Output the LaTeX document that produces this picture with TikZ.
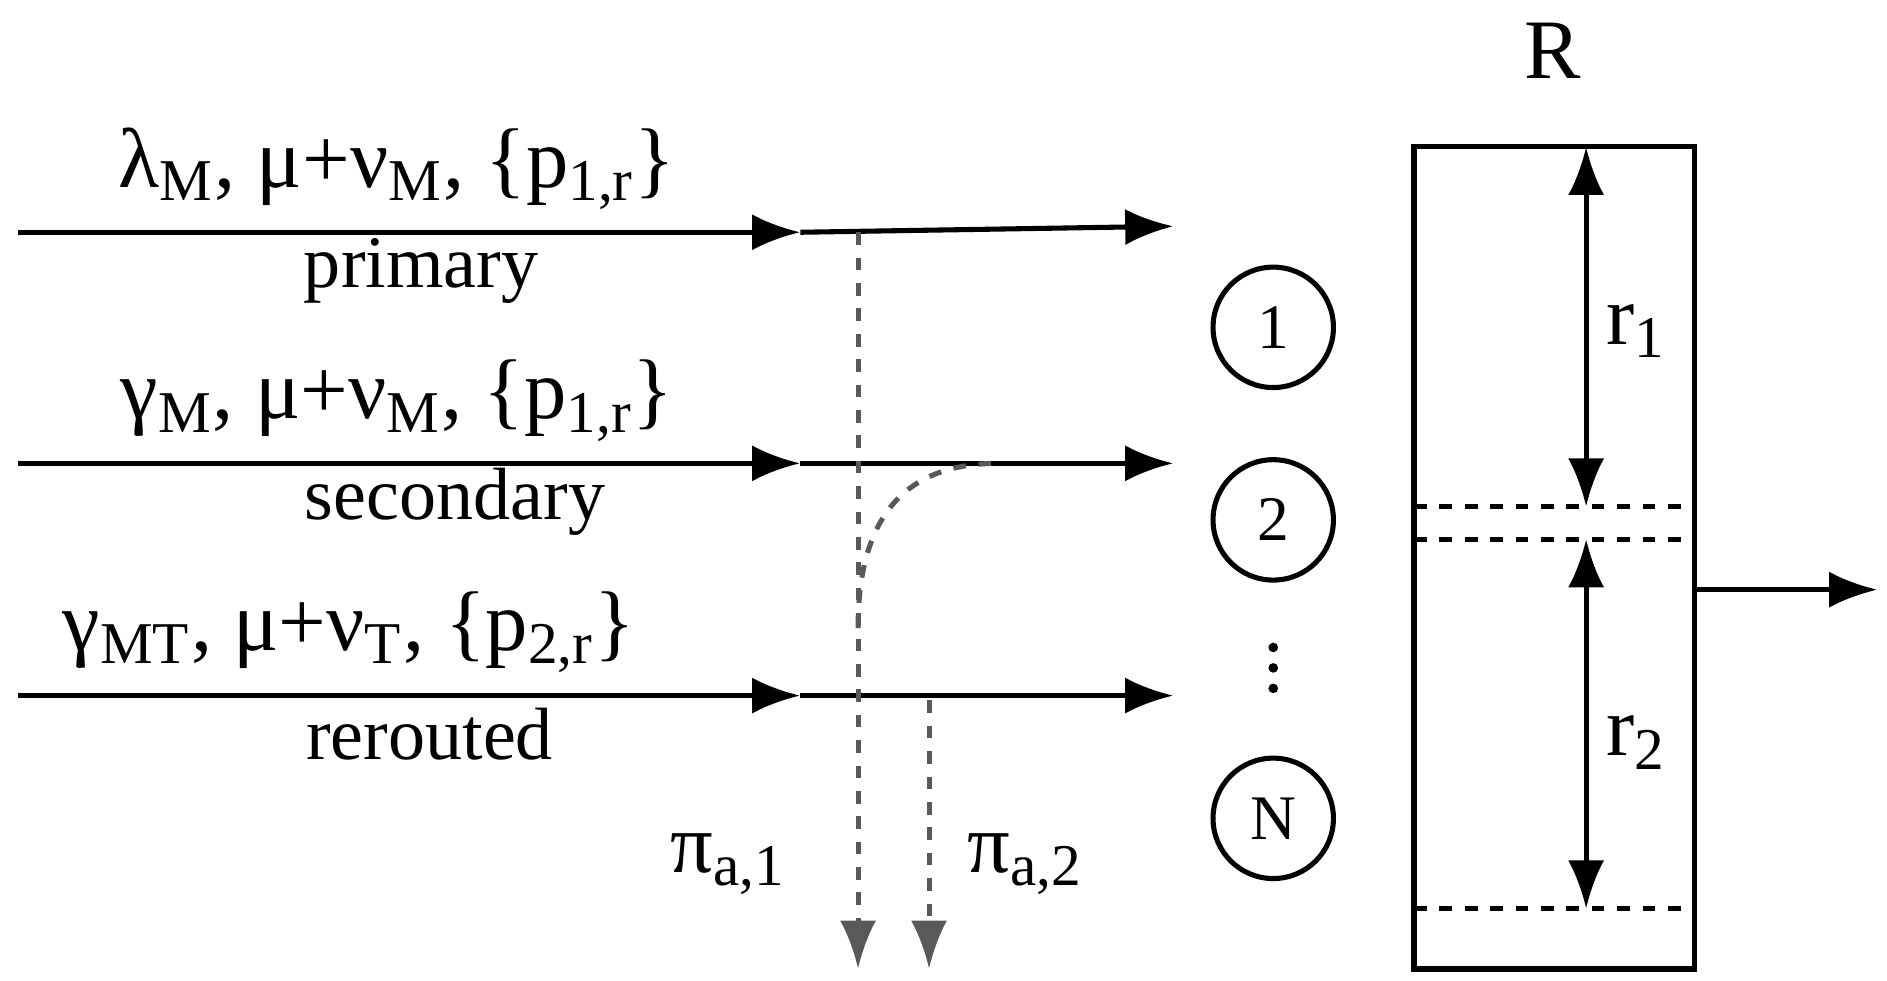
\documentclass[tikz,border=0pt]{standalone}
\usepackage{fontspec}
\setmainfont{Liberation Serif}
\usetikzlibrary{arrows,arrows.meta,positioning,calc}
\begin{document}
\begin{tikzpicture}[
>={Latex[length=4mm,width=3mm]}, thick, x=0.01cm, y=-0.01cm,
flow-line/.style = {->, line width=1.2pt},
split-line/.style = {->, dashed, line width=1.2pt, draw=black!65},
server-node/.style = {circle, draw=black, line width=1.2pt, minimum size=1cm, font=\fontsize{15}{18}\selectfont},
label-node/.style = {font=\fontsize{20}{24}\selectfont, inner sep=0pt},
name-node/.style = {font=\fontsize{17.5}{21}\selectfont, inner sep=0pt},
dot-node/.style = {circle, fill=black, inner sep=0pt, minimum size=0.8mm}
]
\useasboundingbox (0,0) rectangle (1568,815);

% flows
\coordinate (pin) at (15,193);
\coordinate (pmid) at (665,193);
\coordinate (pout) at (975,188);
\coordinate (sin) at (15,385);
\coordinate (smid) at (665,385);
\coordinate (sout) at (975,385);
\coordinate (rin) at (15,578);
\coordinate (rmid) at (665,578);
\coordinate (rout) at (975,578);

\draw[flow-line] (pin) -- (pmid);
\draw[flow-line] (pmid) -- (pout);
\draw[flow-line] (sin) -- (smid);
\draw[flow-line] (smid) -- (sout);
\draw[flow-line] (rin) -- (rmid);
\draw[flow-line] (rmid) -- (rout);

\node [label-node] (plabel) at (330,140) {λ\textsubscript{M}, μ+ν\textsubscript{M}, \{p\textsubscript{1,r}\}};
\node [label-node] (slabel) at (330,333) {γ\textsubscript{M}, μ+ν\textsubscript{M}, \{p\textsubscript{1,r}\}};
\node [label-node] (rlabel) at (290,525) {γ\textsubscript{MT}, μ+ν\textsubscript{T}, \{p\textsubscript{2,r}\}};
\node [name-node] (pname) at (350,225) {primary};
\node [name-node] (sname) at (378,417) {secondary};
\node [name-node] (rname) at (357,610) {rerouted};

% splitting
\coordinate (a1top) at (713,193);
\coordinate (a1end) at (713,805);
\coordinate (a2top) at (772,582);
\coordinate (a2end) at (772,805);
\draw[split-line] (a1top) -- (a1end);
\draw[split-line] (a2top) -- (a2end);
\draw[dashed, line width=1.2pt, draw=black!65] (713,522) .. controls (713,420) and (760,385) .. (830,385);
\node [label-node] (pi1) at (605,718) {π\textsubscript{a,1}};
\node [label-node] (pi2) at (852,718) {π\textsubscript{a,2}};

% servers
\node [server-node] (s1) at (1058,272) {1};
\node [server-node] (s2) at (1058,432) {2};
\foreach \y in {538,555,572} \node [dot-node] at (1058,\y) {};
\node [server-node] (sN) at (1058,680) {N};

% resource
\node [draw, line width=1.2pt, minimum width=2.33cm, minimum height=6.83cm, inner sep=0pt] (res) at (1291.5,463.5) {};
\node [label-node] (rtitle) at (1290,42) {R};
\coordinate (d1l) at (1175,421); \coordinate (d1r) at (1408,421);
\coordinate (d2l) at (1175,448); \coordinate (d2r) at (1408,448);
\coordinate (d3l) at (1175,755); \coordinate (d3r) at (1408,755);
\draw[dashed, line width=1.2pt] (d1l) -- (d1r);
\draw[dashed, line width=1.2pt] (d2l) -- (d2r);
\draw[dashed, line width=1.2pt] (d3l) -- (d3r);
\coordinate (r1a) at (1318,122); \coordinate (r1b) at (1318,421);
\coordinate (r2a) at (1318,448); \coordinate (r2b) at (1318,755);
\draw[<->, line width=1.2pt] (r1a) -- (r1b);
\draw[<->, line width=1.2pt] (r2a) -- (r2b);
\node [label-node] (r1) at (1360,275) {r\textsubscript{1}};
\node [label-node] (r2) at (1360,617) {r\textsubscript{2}};
\coordinate (outp) at (1560,490);
\draw[flow-line] (res.east |- outp) -- (outp);

\end{tikzpicture}
\end{document}
